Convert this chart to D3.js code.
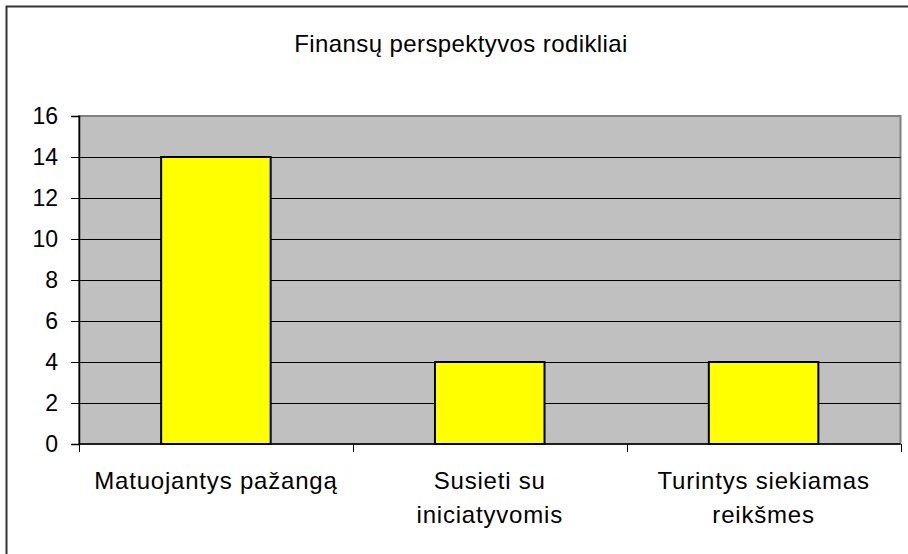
<!DOCTYPE html>
<html>
<head>
<meta charset="utf-8">
<script src="https://cdn.jsdelivr.net/npm/d3@7"></script>
<style>
  body { margin: 0; background: #fff; }
  text { font-family: "Liberation Sans", Arial, sans-serif; fill: #000; }
</style>
</head>
<body>
<div id="chart"></div>
<script>
// data
var categories = [["Matuojantys pažangą"], ["Susieti su", "iniciatyvomis"], ["Turintys siekiamas", "reikšmes"]];
var catKeys = ["Matuojantys pažangą", "Susieti su iniciatyvomis", "Turintys siekiamas reikšmes"];
var values = [14, 4, 4];
var yTicks = [0, 2, 4, 6, 8, 10, 12, 14, 16];
var title = "Finansų perspektyvos rodikliai";

var w = 908;
var h = 554;
var plotL = 79, plotR = 900.5, plotT = 116, plotB = 444;

var svg = d3.select("#chart")
    .append("svg")
        .attr("width", w)
        .attr("height", h);

// outer frame (cropped at the right and bottom)
svg.append("rect")
    .attr("x", 6.5).attr("y", 6.5)
    .attr("width", 1000).attr("height", 1000)
    .attr("fill", "#fff")
    .attr("stroke", "#333")
    .attr("stroke-width", 2);

svg.append("text")
    .attr("x", 461).attr("y", 52)
    .attr("text-anchor", "middle")
    .style("font-size", "24px")
    .style("letter-spacing", "0.4px")
    .text(title);

var x = d3.scaleBand()
    .domain(catKeys)
    .range([plotL, plotR])
    .padding(0);

var y = d3.scaleLinear()
    .domain([0, 16])
    .range([plotB, plotT]);

// plot area
svg.append("rect")
    .attr("x", plotL).attr("y", plotT)
    .attr("width", plotR - plotL).attr("height", plotB - plotT)
    .attr("fill", "#c0c0c0")
    .attr("stroke", "#808080")
    .attr("stroke-width", 2);

// gridlines
svg.selectAll(".grid")
    .data(yTicks.filter(function(d){ return d > 0 && d < 16; }))
    .enter()
    .append("line")
    .attr("x1", plotL).attr("x2", plotR)
    .attr("y1", function(d){ return Math.round(y(d)) + 0.5; })
    .attr("y2", function(d){ return Math.round(y(d)) + 0.5; })
    .attr("stroke", "#000")
    .attr("stroke-width", 1);

// bars
svg.selectAll(".bar")
    .data(values)
    .enter()
    .append("rect")
    .attr("x", function(d, i){ return x(catKeys[i]) + x.bandwidth() * 0.3; })
    .attr("y", function(d){ return y(d); })
    .attr("width", x.bandwidth() * 0.4)
    .attr("height", function(d){ return plotB - y(d); })
    .attr("fill", "#ffff00")
    .attr("stroke", "#000")
    .attr("stroke-width", 2);

// y axis
var yAxis = svg.append("g")
    .attr("transform", "translate(" + plotL + ",0)")
    .call(d3.axisLeft(y).tickValues(yTicks).tickSize(8).tickPadding(13));
yAxis.select(".domain").attr("stroke", "#000").attr("stroke-width", 1.5);
yAxis.selectAll(".tick line").attr("stroke", "#000");
yAxis.selectAll("text")
    .style("font-size", "23px")
    .style("font-family", "'Liberation Sans', Arial, sans-serif");

// x axis line and ticks at category boundaries
svg.append("line")
    .attr("x1", plotL).attr("x2", plotR)
    .attr("y1", plotB).attr("y2", plotB)
    .attr("stroke", "#000").attr("stroke-width", 1.5);

var bounds = catKeys.map(function(d){ return x(d); }).concat([plotR]);
svg.selectAll(".xtick")
    .data(bounds)
    .enter()
    .append("line")
    .attr("x1", function(d){ return Math.round(d) + 0.5; })
    .attr("x2", function(d){ return Math.round(d) + 0.5; })
    .attr("y1", plotB).attr("y2", plotB + 8)
    .attr("stroke", "#000");

// category labels
svg.selectAll(".cat")
    .data(categories)
    .enter()
    .append("text")
    .attr("x", function(d, i){ return x(catKeys[i]) + x.bandwidth() / 2; })
    .attr("y", 489)
    .attr("text-anchor", "middle")
    .style("font-size", "24px")
    .style("letter-spacing", "0.8px")
    .selectAll("tspan")
    .data(function(d){ return d; })
    .enter()
    .append("tspan")
    .attr("x", function(){ return this.parentNode.getAttribute("x"); })
    .attr("dy", function(d, i){ return i === 0 ? 0 : 34; })
    .text(function(d){ return d; });
</script>
</body>
</html>
